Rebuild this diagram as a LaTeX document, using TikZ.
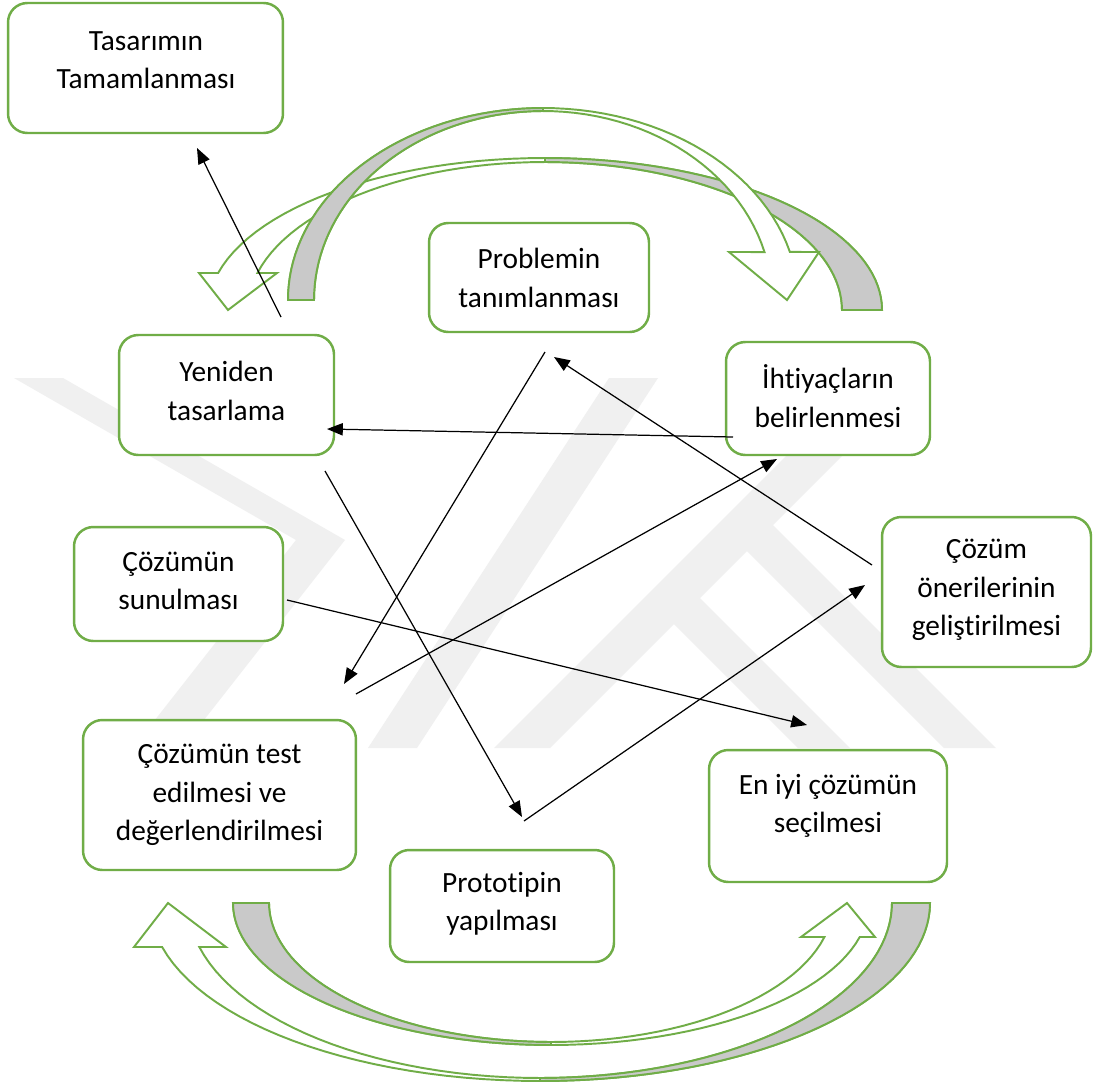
\documentclass[tikz,border=0pt]{standalone}
\usepackage{fontspec}
\setmainfont{Carlito}[Ligatures=NoCommon]
\usetikzlibrary{arrows.meta}
\definecolor{grn}{RGB}{112,173,71}
\definecolor{bandgray}{RGB}{201,201,201}
\definecolor{wmark}{RGB}{240,240,240}
\begin{document}
\begin{tikzpicture}[x=0.02cm,y=-0.02cm,
  box/.style={draw=grn, line width=1.4pt, rounded corners=11pt, fill=white, inner sep=0pt},
  txt/.style={align=center, font=\fontsize{16.7}{21.8}\selectfont, inner sep=0pt},
  conn/.style={line width=0.7pt, -{Triangle[length=9pt,width=7pt]}},
  arrbody/.style={draw=grn, line width=1.1pt, fill=white, line join=miter},
  arrback/.style={draw=grn, line width=1.1pt, fill=bandgray, line join=miter},
  wm/.style={fill=wmark, draw=none}]
\useasboundingbox (0,0) rectangle (1093,1086);
\fill[white] (0,0) rectangle (1093,1086);

% faint watermark
\path[wm] (14,378) -- (63,378) -- (345,540) -- (182,748) -- (133,748) -- (296,540) -- cycle;
\path[wm] (368,748) -- (417,748) -- (658,378) -- (609,378) -- cycle;
\path[wm] (494,748) -- (550,748) -- (920,378) -- (864,378) -- cycle;
\path[wm] (745,497) -- (996,748) -- (944,748) -- (747,551) -- cycle;
\path[wm] (672,570) -- (850,748) -- (798,748) -- (674,624) -- cycle;

% top curved arrows
\path[arrbody] plot[domain=360:194.09,samples=60] ({545+337*cos(\x)},{310+152*sin(\x)})
  -- (199,273) -- (228,310) -- (277,273)
  -- plot[domain=194.48:360,samples=60] ({545+297*cos(\x)},{310+148*sin(\x)}) -- cycle;
\path[arrback] plot[domain=360:270,samples=40] ({545+337*cos(\x)},{310+152*sin(\x)})
  -- plot[domain=270:360,samples=40] ({545+297*cos(\x)},{310+148*sin(\x)}) -- cycle;
\path[arrbody] plot[domain=180:345.5,samples=60] ({543+255*cos(\x)},{300+192*sin(\x)})
  -- (819,252) -- (787,300) -- (729,252)
  -- plot[domain=345.3:180,samples=60] ({543+229*cos(\x)},{300+189*sin(\x)}) -- cycle;
\path[arrback] plot[domain=180:270,samples=40] ({543+255*cos(\x)},{300+192*sin(\x)})
  -- plot[domain=270:180,samples=40] ({543+229*cos(\x)},{300+189*sin(\x)}) -- cycle;

% bottom curved arrows
\path[arrbody] plot[domain=0:165.69,samples=60] ({540+390*cos(\x)},{903+178*sin(\x)})
  -- (134,947) -- (168,903) -- (226,947)
  -- plot[domain=165.44:0,samples=60] ({540+352*cos(\x)},{903+175*sin(\x)}) -- cycle;
\path[arrback] plot[domain=0:90,samples=40] ({540+390*cos(\x)},{903+178*sin(\x)})
  -- plot[domain=90:0,samples=40] ({540+352*cos(\x)},{903+175*sin(\x)}) -- cycle;
\path[arrbody] plot[domain=180:13.85,samples=60] ({551+318*cos(\x)},{903+142*sin(\x)})
  -- (875,937) -- (847,903) -- (801,937)
  -- plot[domain=14.16:180,samples=60] ({551+282*cos(\x)},{903+139*sin(\x)}) -- cycle;
\path[arrback] plot[domain=180:90,samples=40] ({551+318*cos(\x)},{903+142*sin(\x)})
  -- plot[domain=90:180,samples=40] ({551+282*cos(\x)},{903+139*sin(\x)}) -- cycle;

% boxes
\node[box, minimum width=5.50cm, minimum height=2.60cm] (tasarim) at (145.5,68) {};
\node[box, minimum width=4.40cm, minimum height=2.18cm] (problem) at (539,277.5) {};
\node[box, minimum width=4.08cm, minimum height=2.26cm] (ihtiyac) at (828,398.5) {};
\node[box, minimum width=4.30cm, minimum height=2.40cm] (yeniden) at (226.5,395) {};
\node[box, minimum width=4.18cm, minimum height=2.28cm] (sunum) at (178.5,584) {};
\node[box, minimum width=4.18cm, minimum height=3.00cm] (oneri) at (986.5,592) {};
\node[box, minimum width=5.46cm, minimum height=3.00cm] (test) at (219.5,795) {};
\node[box, minimum width=4.76cm, minimum height=2.64cm] (eniyi) at (828,816) {};
\node[box, minimum width=4.48cm, minimum height=2.24cm] (proto) at (502,906) {};

% texts
\node[txt] (t-tasarim) at (146,60) {Tasarımın\\Tamamlanması};
\node[txt] (t-problem) at (539,278) {Problemin\\tanımlanması};
\node[txt] (t-ihtiyac) at (828,396) {İhtiyaçların\\belirlenmesi};
\node[txt] (t-yeniden) at (226.5,391) {Yeniden\\tasarlama};
\node[txt] (t-sunum) at (178.5,581) {Çözümün\\sunulması};
\node[txt] (t-oneri) at (986.5,590) {Çözüm\\önerilerinin\\geliştirilmesi};
\node[txt] (t-test) at (219.5,795) {Çözümün test\\edilmesi ve\\değerlendirilmesi};
\node[txt] (t-eniyi) at (828,806) {En iyi çözümün\\seçilmesi};
\node[txt] (t-proto) at (502,904) {Prototipin\\yapılması};

% connector ends
\coordinate (a1) at (281,317); \coordinate (a2) at (197,148);
\coordinate (b1) at (545,352); \coordinate (b2) at (344,684);
\coordinate (c1) at (356,694); \coordinate (c2) at (777,459);
\coordinate (d1) at (872,565); \coordinate (d2) at (554,357);
\coordinate (e1) at (733,437); \coordinate (e2) at (327,429);
\coordinate (f1) at (325,471); \coordinate (f2) at (522,817);
\coordinate (g1) at (524,821); \coordinate (g2) at (865,585);
\coordinate (h1) at (287,600); \coordinate (h2) at (807,725);

\draw[conn] (a1) -- (a2);
\draw[conn] (b1) -- (b2);
\draw[conn] (c1) -- (c2);
\draw[conn] (d1) -- (d2);
\draw[conn] (e1) -- (e2);
\draw[conn] (f1) -- (f2);
\draw[conn] (g1) -- (g2);
\draw[conn] (h1) -- (h2);
\end{tikzpicture}
\end{document}
